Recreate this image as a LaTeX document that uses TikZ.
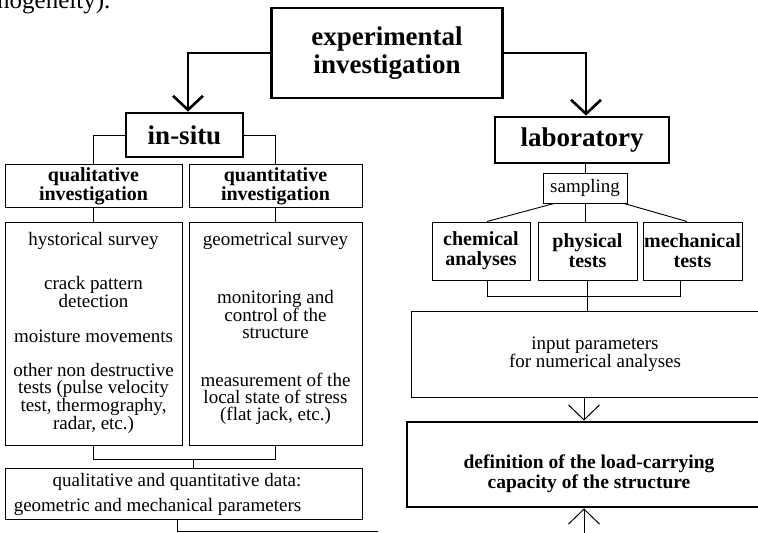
\documentclass[tikz,border=0pt]{standalone}
\usepackage{fontspec}
\setmainfont{Liberation Serif}
\usetikzlibrary{arrows.meta,positioning}

\tikzset{
  heavy/.style={draw, line width=2.8pt, inner sep=0pt, align=center,
    font=\bfseries\fontsize{27}{28}\selectfont},
  plainbox/.style={draw, line width=1pt, inner sep=0pt, align=center,
    font=\fontsize{19}{18}\selectfont},
  head/.style={plainbox, font=\bfseries\fontsize{20}{18}\selectfont},
  item/.style={inner sep=0pt, align=center, font=\fontsize{19}{17}\selectfont},
  link/.style={line width=0.9pt},
  flow/.style={line width=2.6pt, -{Straight Barb[length=14pt,width=30pt]}},
  thinflow/.style={line width=1pt, -{Straight Barb[length=15pt,width=31pt]}},
}

\begin{document}
\begin{tikzpicture}[x=1pt, y=1pt]
  \clip (0,0) rectangle (758,-533);

  % end of the paragraph above
  \node[anchor=base west, inner sep=0pt, font=\fontsize{25}{25}\selectfont] (pagetext) at (-3,-8) {nogeneity).};

  % top level
  \node[heavy, minimum width=231pt, minimum height=90pt] (exper) at (387,-53) {experimental\\investigation};
  \node[heavy, minimum width=117pt, minimum height=44pt] (insitu) at (184.5,-135) {in-situ};
  \node[heavy, minimum width=174pt, minimum height=46pt] (lab) at (582,-140) {laboratory};

  \draw[flow] (exper.west) -| ([xshift=3.5pt]insitu.north);
  \draw[flow] (exper.east) -| ([xshift=4pt]lab.north);

  % in-situ branch
  \node[head, minimum width=177pt, minimum height=43pt] (qual) at (93.5,-186) {qualitative\\investigation};
  \node[head, minimum width=173pt, minimum height=43pt] (quan) at (275.5,-186) {quantitative\\investigation};
  \draw[link] (insitu.west) -| (qual.north);
  \draw[link] (insitu.east) -| (quan.north);

  \node[plainbox, minimum width=177pt, minimum height=223pt] (qualdet) at (93.5,-333.5) {};
  \node[plainbox, minimum width=173pt, minimum height=223pt] (quandet) at (275.5,-333.5) {};
  \draw[link] (qual) -- (qualdet);
  \draw[link] (quan) -- (quandet);

  \node[item] (hist) at (93.5,-241) {hystorical survey};
  \node[item] (crack) at (93.5,-292) {crack pattern\\detection};
  \node[item] (moist) at (93.5,-336) {moisture movements};
  \node[item] (ndt) at (93.5,-398.5) {other non destructive\\tests (pulse velocity\\test, thermography,\\radar, etc.)};

  \node[item] (geom) at (275.5,-241) {geometrical survey};
  \node[item] (monit) at (275.5,-314.5) {monitoring and\\control of the\\structure};
  \node[item] (stress) at (275.5,-398.5) {measurement of the\\local state of stress\\(flat jack, etc.)};

  \node[plainbox, minimum width=357pt, minimum height=51pt] (data) at (183.5,-493.5) {};
  \node[item, align=right, font=\fontsize{19}{25}\selectfont] (datatext) at (157.5,-494.5) {qualitative and quantitative data:\\geometric and mechanical parameters};

  \draw[link] (qualdet.south) -- ++(0,-14) -| (quandet.south);
  \draw[link] ([xshift=9.5pt]data.north) -- ++(0,9);
  \coordinate (runend) at (378,-531);
  \draw[link] ([xshift=-6.5pt]data.south) |- (runend);

  % laboratory branch
  \node[plainbox, minimum width=84pt, minimum height=30pt] (sampling) at (585,-188) {sampling};
  \draw[link] (sampling.north) -- (sampling.north |- lab.south);

  \node[head, minimum width=98pt, minimum height=58pt, font=\bfseries\fontsize{20}{20}\selectfont] (chem) at (481,-251) {chemical\\analyses};
  \node[head, minimum width=99pt, minimum height=58pt, font=\bfseries\fontsize{20}{20}\selectfont] (phys) at (587.5,-251) {physical\\tests};
  \node[head, minimum width=99pt, minimum height=58pt, font=\bfseries\fontsize{20}{20}\selectfont] (mech) at (692.5,-251) {mechanical\\tests};

  \draw[link] ([xshift=-31pt]sampling.south) -- ([xshift=6pt]chem.north);
  \draw[link] (sampling.south) -- (sampling.south |- phys.north);
  \draw[link] ([xshift=39pt]sampling.south) -- ([xshift=-5.5pt]mech.north);

  \node[plainbox, minimum width=368pt, minimum height=86pt] (input) at (595,-354) {input parameters\\for numerical analyses};
  \draw[link] ([xshift=6pt]chem.south) -- ++(0,-16) -| ([xshift=-12.5pt]mech.south);
  \draw[link] (phys.south) -- (phys.south |- input.north);

  \node[heavy, minimum width=364pt, minimum height=85pt] (define) at (589,-464.5) {};
  \node[item, font=\bfseries\fontsize{19.5}{20}\selectfont] (definetext) at (589,-474) {definition of the load-carrying\\capacity of the structure};

  \draw[thinflow] ([xshift=-11pt]input.south) -- ([xshift=-5pt]define.north);
  \coordinate (below) at (584,-545);
  \draw[thinflow] (below) -- ([xshift=-5pt]define.south);
\end{tikzpicture}
\end{document}
